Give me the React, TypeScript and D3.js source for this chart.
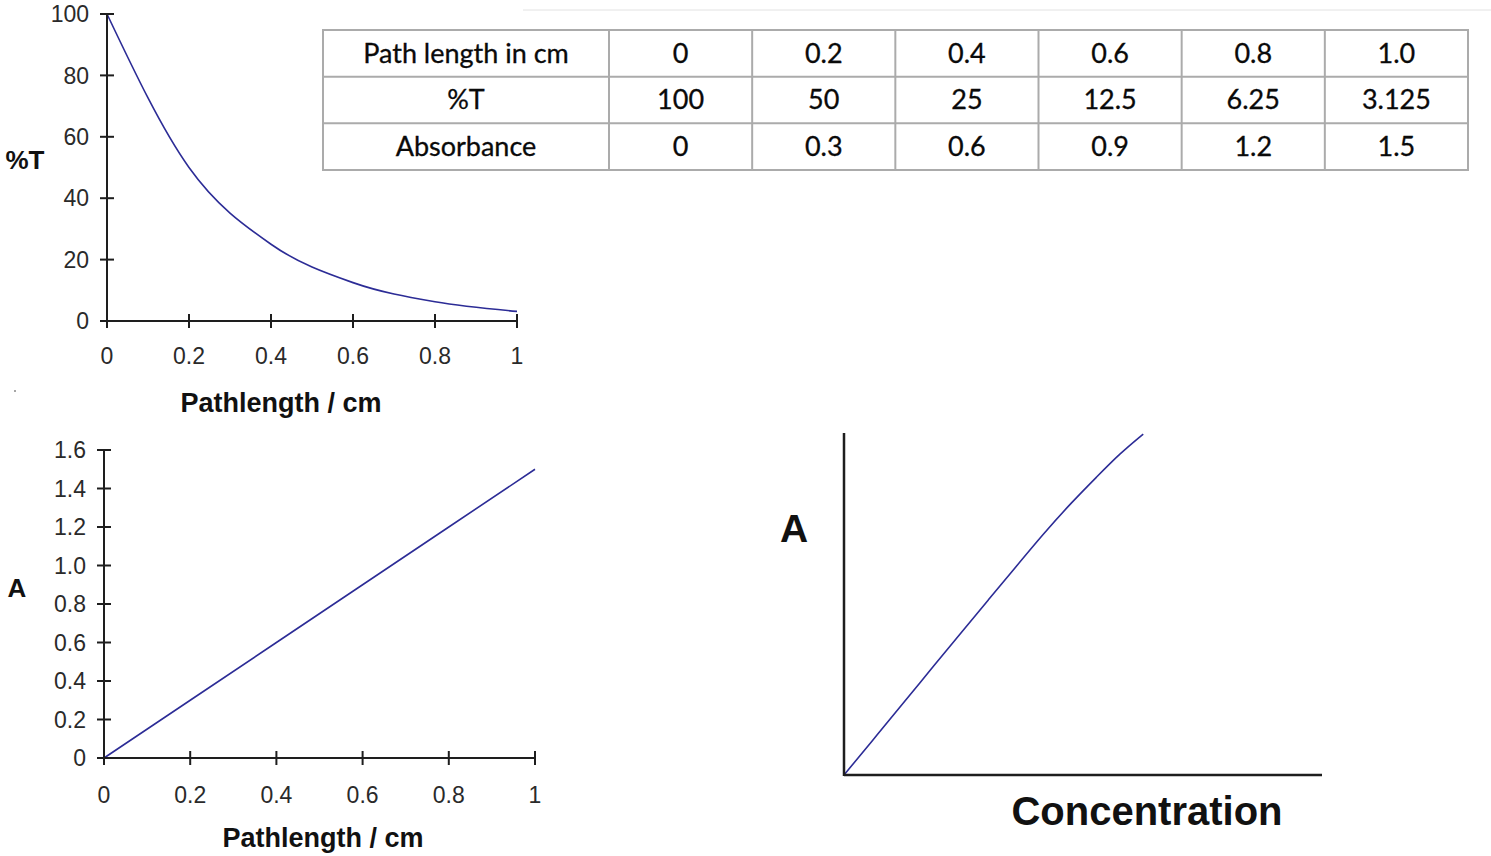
import React from "react";
import * as d3 from "d3";

// ---- data ----
const pathLengths = [0, 0.2, 0.4, 0.6, 0.8, 1.0];
const transmittance = [100, 50, 25, 12.5, 6.25, 3.125];
const absorbance = [0, 0.3, 0.6, 0.9, 1.2, 1.5];

const xTickValues = [0, 0.2, 0.4, 0.6, 0.8, 1];
const xTickLabels = ["0", "0.2", "0.4", "0.6", "0.8", "1"];
const tTickValues = [0, 20, 40, 60, 80, 100];
const tTickLabels = ["0", "20", "40", "60", "80", "100"];
const aTickValues = [0, 0.2, 0.4, 0.6, 0.8, 1.0, 1.2, 1.4, 1.6];
const aTickLabels = ["0", "0.2", "0.4", "0.6", "0.8", "1.0", "1.2", "1.4", "1.6"];

const tableRowHeaders = ["Path length in cm", "%T", "Absorbance"];
const tablePathLabels = ["0", "0.2", "0.4", "0.6", "0.8", "1.0"];
const tableTLabels = ["100", "50", "25", "12.5", "6.25", "3.125"];
const tableALabels = ["0", "0.3", "0.6", "0.9", "1.2", "1.5"];

// sketched Beer's law curve (relative units)
const concentration = [0, 0.072, 0.131, 0.187, 0.246, 0.302, 0.358, 0.417, 0.476, 0.529, 0.577, 0.626];
const concAbsorbance = [0, 0.122, 0.222, 0.318, 0.418, 0.512, 0.606, 0.705, 0.797, 0.872, 0.94, 0.997];

const LINE = "#2c2c96";
const AXIS = "#1e1e1e";
const TICKTXT = "#2a2a2a";
const SANS = "'Liberation Sans', Arial, sans-serif";

function SmallChart(props: {
  x0: number; x1: number; y0: number; y1: number;
  yDomain: [number, number];
  yTicks: number[]; yLabels: string[];
  xs: number[]; ys: number[];
  curve: any;
  yTitle: string; yTitleX: number; yTitleY: number;
  xTitle: string; xTitleX: number; xTitleY: number;
  xLabelY: number;
}) {
  const xs = d3.scaleLinear().domain([0, 1]).range([props.x0, props.x1]);
  const ys = d3.scaleLinear().domain(props.yDomain).range([props.y0, props.y1]);
  const line = d3
    .line<number>()
    .x((_, i) => xs(props.xs[i]))
    .y((d) => ys(d))
    .curve(props.curve);
  const tk = 7;
  return (
    <g>
      <path d={line(props.ys) || ""} fill="none" stroke={LINE} strokeWidth={1.6} />
      <line x1={props.x0} x2={props.x0} y1={ys(props.yDomain[0])} y2={ys(props.yDomain[1])} stroke={AXIS} strokeWidth={2} />
      <line x1={props.x0} x2={props.x1} y1={props.y0} y2={props.y0} stroke={AXIS} strokeWidth={2} />
      {props.yTicks.map((t, i) => (
        <g key={"y" + i}>
          <line x1={props.x0 - tk} x2={props.x0 + tk} y1={ys(t)} y2={ys(t)} stroke={AXIS} strokeWidth={2} />
          <text x={props.x0 - 18} y={ys(t)} dy="0.36em" textAnchor="end" fontFamily={SANS} fontSize={23} fill={TICKTXT}>
            {props.yLabels[i]}
          </text>
        </g>
      ))}
      {xTickValues.map((t, i) => (
        <g key={"x" + i}>
          <line x1={xs(t)} x2={xs(t)} y1={props.y0 - tk} y2={props.y0 + tk} stroke={AXIS} strokeWidth={2} />
          <text x={xs(t)} y={props.xLabelY} dy="0.36em" textAnchor="middle" fontFamily={SANS} fontSize={23} fill={TICKTXT}>
            {xTickLabels[i]}
          </text>
        </g>
      ))}
      <text x={props.yTitleX} y={props.yTitleY} dy="0.36em" textAnchor="middle" fontFamily={SANS} fontWeight="bold" fontSize={26} fill="#111">
        {props.yTitle}
      </text>
      <text x={props.xTitleX} y={props.xTitleY} dy="0.36em" textAnchor="middle" fontFamily={SANS} fontWeight="bold" fontSize={27} fill="#111">
        {props.xTitle}
      </text>
    </g>
  );
}

function DataTable() {
  const left = 323, firstColRight = 609, right = 1468, top = 30, bottom = 170;
  const cols = d3.scaleBand<number>().domain(d3.range(6)).range([firstColRight, right]);
  const rows = d3.scaleBand<number>().domain(d3.range(3)).range([top, bottom]);
  const rowValues = [tablePathLabels, tableTLabels, tableALabels];
  const border = "#ababab";
  const font = "Lato, 'Open Sans', sans-serif";
  const fs = 27;
  return (
    <g>
      <rect x={left} y={top} width={right - left} height={bottom - top} fill="#fff" stroke={border} strokeWidth={2} />
      {d3.range(1, 3).map((r) => (
        <line key={"r" + r} x1={left} x2={right} y1={rows(r)!} y2={rows(r)!} stroke={border} strokeWidth={2} />
      ))}
      {d3.range(0, 6).map((c) => (
        <line key={"c" + c} x1={cols(c)!} x2={cols(c)!} y1={top} y2={bottom} stroke={border} strokeWidth={2} />
      ))}
      {tableRowHeaders.map((h, r) => (
        <g key={"h" + r}>
          <text x={(left + firstColRight) / 2} y={rows(r)! + rows.bandwidth() / 2} dy="0.35em" textAnchor="middle" fontFamily={font} fontSize={fs} fill="#0a0a0a" stroke="#0a0a0a" strokeWidth={0.3}>
            {h}
          </text>
          {rowValues[r].map((v, c) => (
            <text key={c} x={cols(c)! + cols.bandwidth() / 2} y={rows(r)! + rows.bandwidth() / 2} dy="0.35em" textAnchor="middle" fontFamily={font} fontSize={fs} fill="#0a0a0a" stroke="#0a0a0a" strokeWidth={0.3}>
              {v}
            </text>
          ))}
        </g>
      ))}
    </g>
  );
}

function ConcentrationChart() {
  const x0 = 844, x1 = 1322, y0 = 775, y1 = 433;
  const xs = d3.scaleLinear().domain([0, 1]).range([x0, x1]);
  const ys = d3.scaleLinear().domain([0, 1]).range([y0, y1]);
  const line = d3
    .line<number>()
    .x((_, i) => xs(concentration[i]))
    .y((d) => ys(d))
    .curve(d3.curveBasis);
  return (
    <g>
      <path d={line(concAbsorbance) || ""} fill="none" stroke={LINE} strokeWidth={1.6} />
      <line x1={x0} x2={x0} y1={y0 + 1} y2={y1} stroke={AXIS} strokeWidth={2.5} />
      <line x1={x0} x2={x1} y1={y0} y2={y0} stroke={AXIS} strokeWidth={2.5} />
      <text x={794} y={528} dy="0.36em" textAnchor="middle" fontFamily={SANS} fontWeight="bold" fontSize={39} fill="#111">
        A
      </text>
      <text x={1147} y={811} dy="0.36em" textAnchor="middle" fontFamily={SANS} fontWeight="bold" fontSize={40} fill="#111">
        Concentration
      </text>
    </g>
  );
}

export default function App() {
  return (
    <div style={{ position: "absolute", left: 0, top: 0 }}>
      <svg width={1491} height={856} style={{ display: "block", background: "#fff" }}>
        <line x1={523} x2={1491} y1={10} y2={10} stroke="#e2e2e2" strokeWidth={1} />
        <circle cx={15} cy={391} r={1} fill="#888" />
        <SmallChart
          x0={107} x1={517} y0={321} y1={14}
          yDomain={[0, 100]}
          yTicks={tTickValues} yLabels={tTickLabels}
          xs={pathLengths} ys={transmittance}
          curve={d3.curveMonotoneX}
          yTitle="%T" yTitleX={25} yTitleY={160}
          xTitle="Pathlength / cm" xTitleX={281} xTitleY={402}
          xLabelY={356}
        />
        <SmallChart
          x0={104} x1={535} y0={758} y1={450}
          yDomain={[0, 1.6]}
          yTicks={aTickValues} yLabels={aTickLabels}
          xs={pathLengths} ys={absorbance}
          curve={d3.curveLinear}
          yTitle="A" yTitleX={17} yTitleY={588}
          xTitle="Pathlength / cm" xTitleX={323} xTitleY={837}
          xLabelY={795}
        />
        <DataTable />
        <ConcentrationChart />
      </svg>
    </div>
  );
}
